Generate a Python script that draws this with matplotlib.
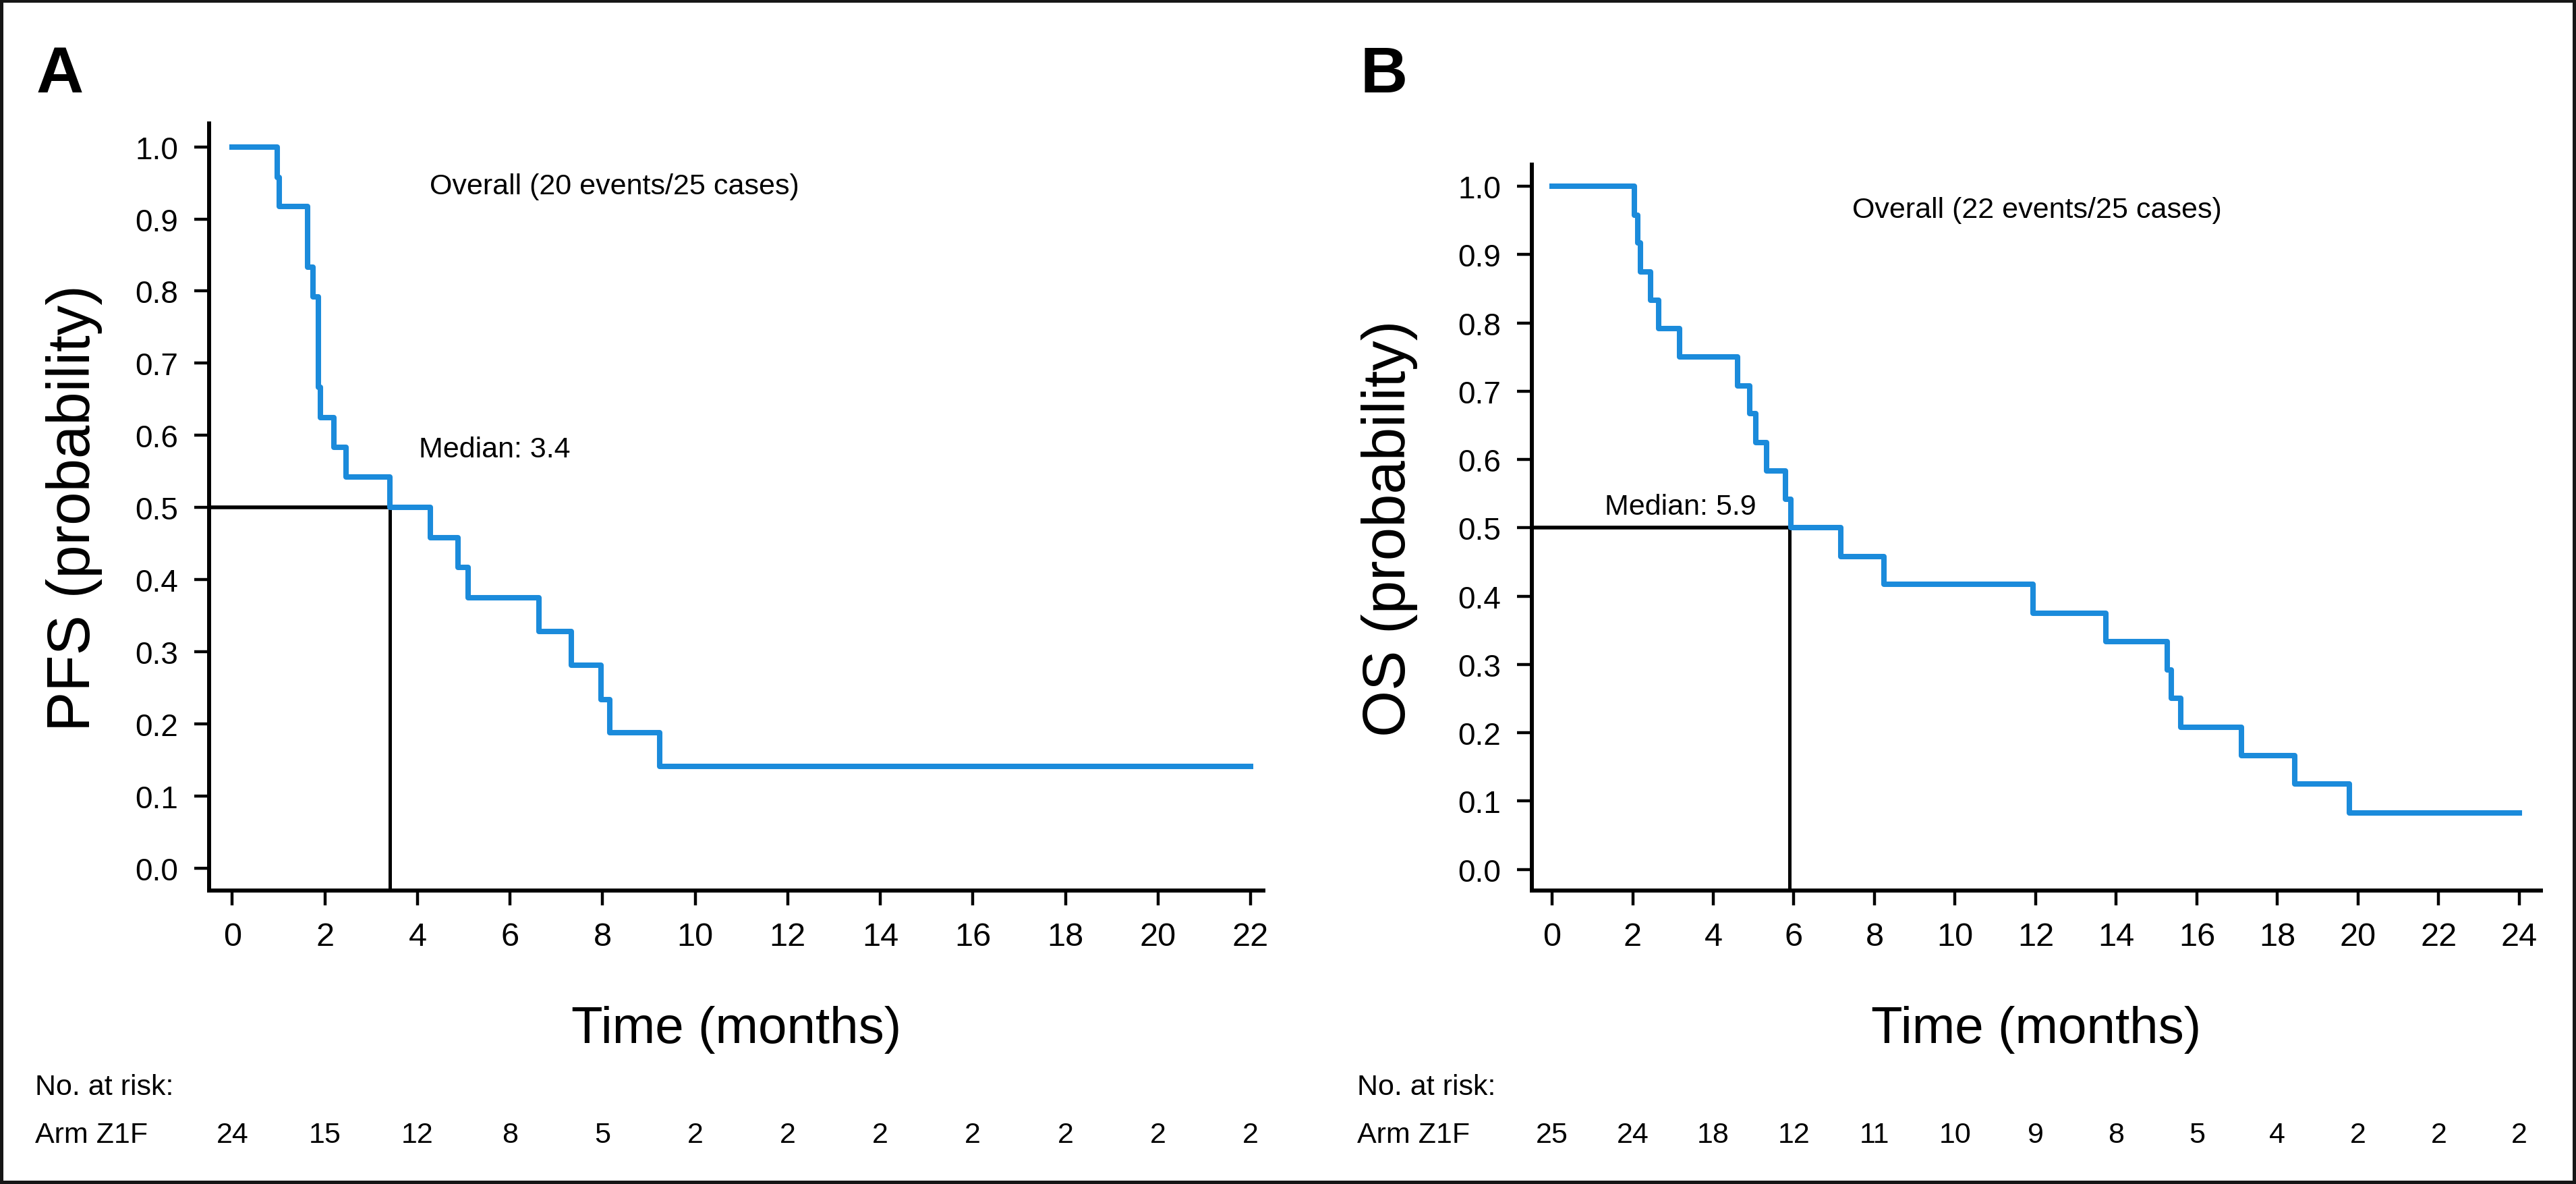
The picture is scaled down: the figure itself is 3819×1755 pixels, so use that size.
import matplotlib
matplotlib.use("Agg")
import matplotlib.pyplot as plt
import matplotlib.transforms as mtransforms
from matplotlib import font_manager

plt.rcParams['font.family'] = ['Liberation Sans', 'DejaVu Sans']

# the axis title is set in a condensed face in the original
installed = {f.name for f in font_manager.fontManager.ttflist}
if 'Liberation Sans Narrow' in installed:
    xlabel_font = dict(family=['Liberation Sans Narrow', 'Liberation Sans'], size=62)
else:
    xlabel_font = dict(family=['Liberation Sans', 'DejaVu Sans'], size=55)

# PFS (panel A) Kaplan-Meier steps
pfs_time = [0, 0.97, 1.02, 1.63, 1.75, 1.86, 1.91, 2.20, 2.45, 3.40, 4.28, 4.88,
            5.10, 6.62, 7.32, 7.96, 8.15, 9.24, 22.0]
pfs_surv = [1.0, 0.958, 0.917, 0.833, 0.792, 0.667, 0.625, 0.583, 0.542, 0.500,
            0.458, 0.417, 0.375, 0.328, 0.281, 0.234, 0.188, 0.141, 0.141]
pfs_median = 3.4
pfs_ticks = list(range(0, 23, 2))
pfs_risk = [24, 15, 12, 8, 5, 2, 2, 2, 2, 2, 2, 2]

# OS (panel B)
os_time = [0, 2.05, 2.12, 2.20, 2.45, 2.64, 3.17, 4.61, 4.91, 5.06, 5.33, 5.79,
           5.93, 7.17, 8.23, 11.93, 13.74, 15.26, 15.36, 15.60, 17.10, 18.43,
           19.78, 24.0]
os_surv = [1.0, 0.958, 0.917, 0.875, 0.833, 0.792, 0.750, 0.708, 0.667, 0.625,
           0.583, 0.542, 0.500, 0.458, 0.417, 0.375, 0.333, 0.292, 0.250, 0.208,
           0.167, 0.125, 0.083, 0.083]
os_median = 5.9
os_ticks = list(range(0, 25, 2))
os_risk = [25, 24, 18, 12, 11, 10, 9, 8, 5, 4, 2, 2, 2]

y_ticks = [i / 10 for i in range(11)]
blue = '#1B8BDB'
y_lo, y_hi = -0.031, 1.032

fig = plt.figure(figsize=(38.19, 17.56), dpi=100, facecolor='white',
                 edgecolor='#161616', linewidth=6)


def km_panel(ax, t, s, median, xticks, xmax, risk, ylabel, overall, overall_xy,
             median_xy, letter, letter_x, ylabel_x, risk_x):
    ax.set_xlim(-0.5, xmax)
    ax.set_ylim(y_lo, y_hi)
    ax.plot([-0.5, median], [0.5, 0.5], color='black', lw=4, zorder=2,
            solid_capstyle='butt')
    ax.plot([median, median], [y_lo, 0.5], color='black', lw=3.6, zorder=2,
            solid_capstyle='butt')
    ax.step(t, s, where='post', color=blue, lw=5.8, zorder=3)

    for side in ['top', 'right']:
        ax.spines[side].set_visible(False)
    for side in ['left', 'bottom']:
        ax.spines[side].set_linewidth(4.3)
    ax.set_xticks(xticks)
    ax.set_yticks(y_ticks)
    ax.set_yticklabels(['%.1f' % v for v in y_ticks])
    ax.tick_params(length=16, width=3.2, pad=17)
    ax.tick_params(axis='x', labelsize=35)
    ax.tick_params(axis='y', labelsize=33)

    ax.set_xlabel('Time (months)', fontdict=xlabel_font, va='baseline')
    ax.xaxis.set_label_coords(0.5, 0.1197, transform=mtransforms.blended_transform_factory(
        ax.transAxes, fig.transFigure))
    ax.set_ylabel(ylabel, fontsize=64, va='baseline')
    ax.yaxis.set_label_coords(ylabel_x, 0.5, transform=mtransforms.blended_transform_factory(
        fig.transFigure, ax.transAxes))

    ax.text(overall_xy[0], overall_xy[1], overall, fontsize=31, va='baseline')
    ax.text(median_xy[0], median_xy[1], 'Median: %.1f' % median, fontsize=31,
            va='baseline')
    fig.text(letter_x, 0.922, letter, fontsize=70, fontweight='bold', va='baseline')

    # numbers at risk table
    tr = mtransforms.blended_transform_factory(ax.transData, fig.transFigure)
    fig.text(risk_x, 0.0757, 'No. at risk:', fontsize=31, va='baseline')
    fig.text(risk_x, 0.0353, 'Arm Z1F', fontsize=31, va='baseline')
    for x, n in zip(xticks, risk):
        ax.text(x, 0.0353, str(n), transform=tr, fontsize=31, ha='center',
                va='baseline')


ax_a = fig.add_axes([0.0812, 0.2477, 0.4093, 0.6473])
km_panel(ax_a, pfs_time, pfs_surv, pfs_median, pfs_ticks, 22.28, pfs_risk,
         'PFS (probability)', 'Overall (20 events/25 cases)', (4.27, 0.935),
         (4.03, 0.57), 'A', 0.0141, 0.0348, 0.0136)

ax_b = fig.add_axes([0.5947, 0.2477, 0.3917, 0.6130])
km_panel(ax_b, os_time, os_surv, os_median, os_ticks, 24.54, os_risk,
         'OS (probability)', 'Overall (22 events/25 cases)', (7.45, 0.955),
         (1.31, 0.52), 'B', 0.5279, 0.5454, 0.5268)

fig.savefig('out.png', dpi=100)
